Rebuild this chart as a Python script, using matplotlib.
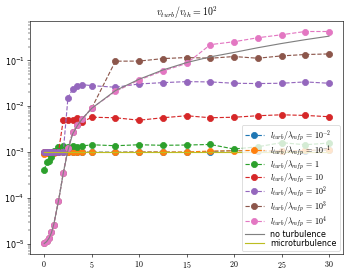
import matplotlib

matplotlib.use("Agg")
import matplotlib.pyplot as plt
from matplotlib.ticker import FuncFormatter

plt.rcParams["mathtext.fontset"] = "cm"
plt.rcParams["axes.formatter.use_mathtext"] = True

t = [0, 0.25, 0.5, 0.75, 1, 1.5, 2, 2.5, 3, 3.5, 4,
     5, 7.5, 10, 12.5, 15, 17.5, 20, 22.5, 25, 27.5, 30]

ratio_labels = ["10^{-2}", "10^{-1}", "1", "10", "10^2", "10^3", "10^4"]

v_1em2 = [9.5e-4, 9.6e-4, 9.7e-4, 9.8e-4, 9.8e-4, 9.9e-4, 9.9e-4, 1.0e-3, 1.0e-3, 1.0e-3, 1.0e-3,
          9.9e-4, 9.9e-4, 1.0e-3, 1.0e-3, 9.8e-4, 1.02e-3, 1.08e-3, 1.05e-3, 1.04e-3, 1.06e-3, 1.1e-3]
v_1em1 = [9.2e-4, 9.4e-4, 9.5e-4, 9.6e-4, 9.7e-4, 9.8e-4, 9.8e-4, 9.8e-4, 9.9e-4, 9.9e-4, 9.9e-4,
          9.8e-4, 9.8e-4, 1.0e-3, 1.0e-3, 1.0e-3, 1.05e-3, 1.06e-3, 1.08e-3, 1.05e-3, 1.08e-3, 1.12e-3]
v_1 = [4.0e-4, 6.0e-4, 6.3e-4, 7.8e-4, 1.07e-3, 1.28e-3, 1.32e-3, 1.3e-3, 1.37e-3, 1.3e-3, 1.35e-3,
       1.44e-3, 1.37e-3, 1.44e-3, 1.4e-3, 1.42e-3, 1.46e-3, 1.16e-3, 1.3e-3, 1.6e-3, 1.44e-3, 1.57e-3]
v_10 = [1.0e-3, 1.0e-3, 1.0e-3, 1.0e-3, 1.0e-3, 1.0e-3, 4.95e-3, 4.95e-3, 5.1e-3, 5.6e-3, 4.5e-3,
        5.75e-3, 5.6e-3, 4.95e-3, 5.6e-3, 6.2e-3, 5.6e-3, 5.75e-3, 6.2e-3, 6.5e-3, 6.3e-3, 5.9e-3]
v_1e2 = [1.0e-3, 1.0e-3, 1.0e-3, 1.0e-3, 1.0e-3, 1.0e-3, 1.0e-3, 1.55e-2, 2.37e-2, 2.8e-2, 2.97e-2,
         2.82e-2, 2.6e-2, 3.07e-2, 3.28e-2, 3.45e-2, 3.4e-2, 3.18e-2, 3.13e-2, 3.18e-2, 3.4e-2, 3.18e-2]
v_1e3 = [1.05e-5, 1.15e-5, 1.35e-5, 1.74e-5, 2.6e-5, 8.5e-5, 3.4e-4, 1.2e-3, 2.67e-3, 3.9e-3, 5.2e-3,
         9.1e-3, 9.66e-2, 9.7e-2, 1.1e-1, 1.16e-1, 1.12e-1, 1.22e-1, 1.12e-1, 1.26e-1, 1.35e-1, 1.39e-1]
v_1e4 = [1.05e-5, 1.15e-5, 1.35e-5, 1.74e-5, 2.6e-5, 8.5e-5, 3.4e-4, 1.2e-3, 2.67e-3, 3.9e-3, 5.2e-3,
         9.1e-3, 2.1e-2, 3.76e-2, 5.9e-2, 8.6e-2, 2.22e-1, 2.57e-1, 3.14e-1, 3.65e-1, 4.3e-1, 4.3e-1]

no_turb = [1.0e-5, 1.1e-5, 1.3e-5, 1.7e-5, 2.6e-5, 8.5e-5, 3.4e-4, 1.1e-3, 2.5e-3, 3.8e-3, 5.3e-3,
           9.0e-3, 2.2e-2, 3.9e-2, 6.2e-2, 9.0e-2, 1.2e-1, 1.5e-1, 1.9e-1, 2.35e-1, 2.85e-1, 3.4e-1]
micro = [1.0e-3] * len(t)

series = [v_1em2, v_1em1, v_1, v_10, v_1e2, v_1e3, v_1e4]

fig = plt.figure(figsize=(6.42, 5.0), dpi=55)
ax = fig.add_axes([0.085, 0.076, 0.887, 0.848])
for i, (lab, vals) in enumerate(zip(ratio_labels, series)):
    ax.plot(t, vals, "o--", color=f"C{i}", markersize=8,
            label=r"$l_{turb}/\lambda_{mfp}\,=\," + lab + "$")
ax.plot(t, no_turb, "-", color="grey", label="no turbulence")
ax.plot(t, micro, "-", color="C8", label="microturbulence")
ax.set_yscale("log")
ax.xaxis.set_major_formatter(FuncFormatter(lambda v, pos: f"${v:g}$"))
ax.tick_params(labelsize=10.5)
ax.set_title(r"$v_{turb}/v_{th} = 10^2$", fontsize=13)
ax.legend(loc="lower right", fontsize=10.5, labelspacing=0.02, handlelength=2.4,
          borderaxespad=0.4)
fig.savefig("out.png", dpi=55)
